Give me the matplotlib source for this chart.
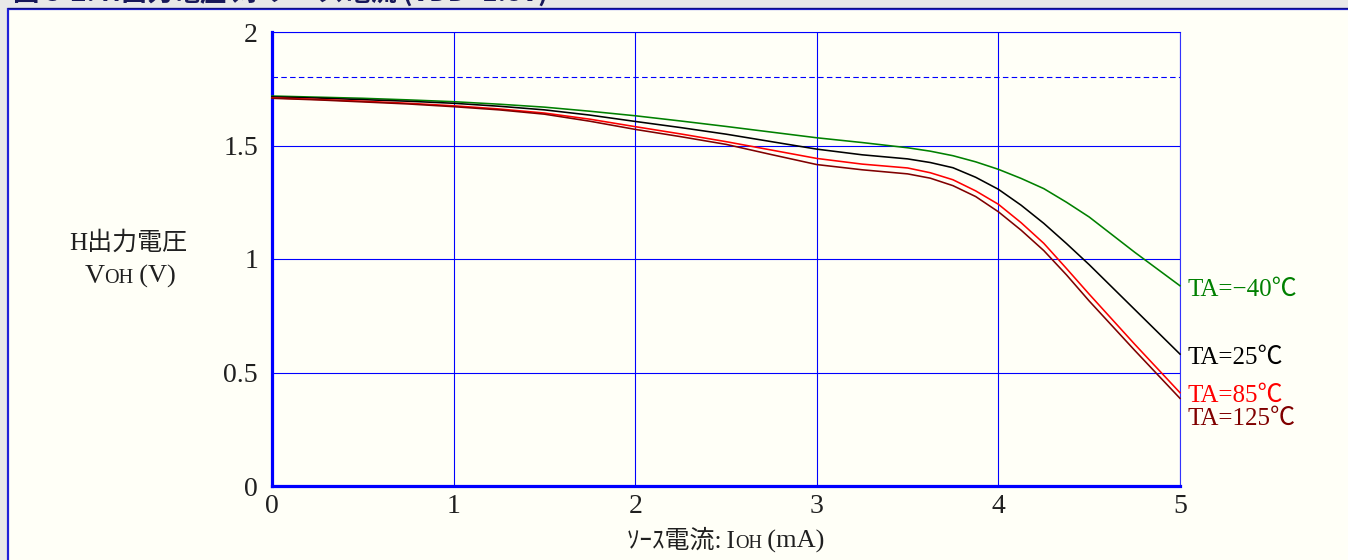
import matplotlib
matplotlib.use("Agg")
import matplotlib.pyplot as plt
from matplotlib.patches import Rectangle
from matplotlib.transforms import IdentityTransform

W, H = 1348, 560
DPI = 100

# source current (mA) and H output voltage (V)
current_ma = [0, 0.25, 0.5, 0.75, 1, 1.25, 1.5, 1.75, 2, 2.25, 2.5, 2.75, 3, 3.25, 3.5,
              3.625, 3.75, 3.875, 4, 4.125, 4.25, 4.375, 4.5, 4.75, 5]
voh_m40 = [1.718, 1.713, 1.708, 1.701, 1.693, 1.682, 1.669, 1.651, 1.631, 1.608, 1.584, 1.559,
           1.534, 1.513, 1.490, 1.475, 1.455, 1.428, 1.395, 1.355, 1.310, 1.250, 1.185, 1.030, 0.882]
voh_25 = [1.714, 1.709, 1.702, 1.695, 1.686, 1.673, 1.657, 1.634, 1.606, 1.579, 1.550, 1.517,
          1.484, 1.459, 1.441, 1.425, 1.402, 1.360, 1.307, 1.237, 1.157, 1.068, 0.975, 0.778, 0.581]
voh_85 = [1.710, 1.703, 1.695, 1.686, 1.675, 1.661, 1.643, 1.616, 1.583, 1.551, 1.517, 1.480,
          1.443, 1.418, 1.401, 1.380, 1.349, 1.300, 1.241, 1.160, 1.069, 0.958, 0.845, 0.625, 0.411]
voh_125 = [1.708, 1.701, 1.692, 1.683, 1.671, 1.657, 1.638, 1.607, 1.571, 1.539, 1.505, 1.460,
           1.416, 1.393, 1.375, 1.356, 1.323, 1.275, 1.208, 1.127, 1.037, 0.930, 0.815, 0.598, 0.386]

series_labels = ["TA=\u221240\u2103", "TA=25\u2103", "TA=85\u2103", "TA=125\u2103"]
vdd_ref = 1.8

x_ticks = [0, 1, 2, 3, 4, 5]
y_ticks = [0, 0.5, 1, 1.5, 2]
y_tick_labels = ["0", "0.5", "1", "1.5", "2"]

colors = ["#008000", "#000000", "#ff0000", "#800000"]
label_drop_px = [4, 4, 3, 21]   # labels sit a little below the line ends; 125C goes under 85C

BLUE = "#0000ff"
IVORY = "#fffff7"
SERIF = ["Liberation Serif", "Noto Sans CJK JP"]
px = 72.0 / DPI  # points per pixel

plt.rcParams["font.family"] = SERIF

fig = plt.figure(figsize=(W / DPI, H / DPI), dpi=DPI)
fig.patch.set_facecolor("#e8e8e8")

# page frame
fig.patches.append(Rectangle((8, -20), W + 40, H - 9 + 20, transform=IdentityTransform(),
                             facecolor=IVORY, edgecolor="#2020d8", lw=2.2 * px, zorder=-5))
fig.lines.append(plt.Line2D([8, W + 10], [H - 8, H - 8], transform=IdentityTransform(),
                            color="#101080", lw=1.2 * px, zorder=-4))

# caption, mostly cut off by the top edge as in the source
fig.text(13, H - 1, "\u56f3 3-2. H\u51fa\u529b\u96fb\u5727 \u5bfe \u30bd\u30fc\u30b9\u96fb\u6d41 (VDD=1.8V)",
         transform=IdentityTransform(), fontsize=19, fontweight="bold", color="#18185a",
         family=["Noto Sans CJK JP"], va="baseline", zorder=-3)

ax = fig.add_axes([272 / W, (H - 486) / H, (1180 - 272) / W, (486 - 32) / H])
ax.set_facecolor("none")
ax.set_xlim(0, 5)
ax.set_ylim(0, 2)
ax.set_xticks(x_ticks)
ax.set_xticklabels([str(t) for t in x_ticks])
ax.set_yticks(y_ticks)
ax.set_yticklabels(y_tick_labels)
ax.tick_params(length=0, labelsize=20, labelcolor="#202020")
ax.tick_params(axis="y", pad=10)
ax.tick_params(axis="x", pad=6)
ax.grid(True, color=BLUE, lw=1.1 * px)
ax.set_axisbelow(True)
for side in ["left", "bottom"]:
    ax.spines[side].set_color(BLUE)
    ax.spines[side].set_linewidth(3.2 * px)
for side in ["top", "right"]:
    ax.spines[side].set_color(BLUE)
    ax.spines[side].set_linewidth(1.1 * px)
    ax.spines[side].set_alpha(0.8)

ax.axhline(vdd_ref, color=BLUE, lw=1.1 * px, ls=(0, (5, 3)), zorder=2)

all_series = [voh_m40, voh_25, voh_85, voh_125]
for vals, lab, col, drop in zip(all_series, series_labels, colors, label_drop_px):
    ax.plot(current_ma, vals, color=col, lw=1.6 * px, zorder=3, clip_on=False,
            solid_joinstyle="round")
    ax.annotate(lab, xy=(current_ma[-1], vals[-1]), xytext=(8 * px, -drop * px),
                textcoords="offset points", color=col, fontsize=18,
                ha="left", va="center", annotation_clip=False)


def rich_text(x, y, pieces):
    # pieces of (text, size) laid out side by side, centred on x, baseline at y (pixels from top)
    renderer = fig.canvas.get_renderer()
    arts, widths = [], []
    for s, size in pieces:
        t = fig.text(0, 0, s, transform=IdentityTransform(), fontsize=size,
                     color="#202020", va="baseline", ha="left")
        arts.append(t)
        widths.append(t.get_window_extent(renderer).width)
    start = x - sum(widths) / 2
    for t, w in zip(arts, widths):
        t.set_position((start, H - y))
        start += w


fig.text(128, H - 243, "H\u51fa\u529b\u96fb\u5727", transform=IdentityTransform(),
         fontsize=18, color="#202020", ha="center", va="center")
rich_text(130, 283, [("V", 20), ("OH", 14.5), ("\u2009(V)", 19)])
rich_text(726, 548, [("\uff7f\uff70\uff7d\u96fb\u6d41:\u2009I", 18), ("OH", 13.5), ("\u2009(mA)", 19)])

fig.savefig("out.png", dpi=DPI, facecolor=fig.get_facecolor())
